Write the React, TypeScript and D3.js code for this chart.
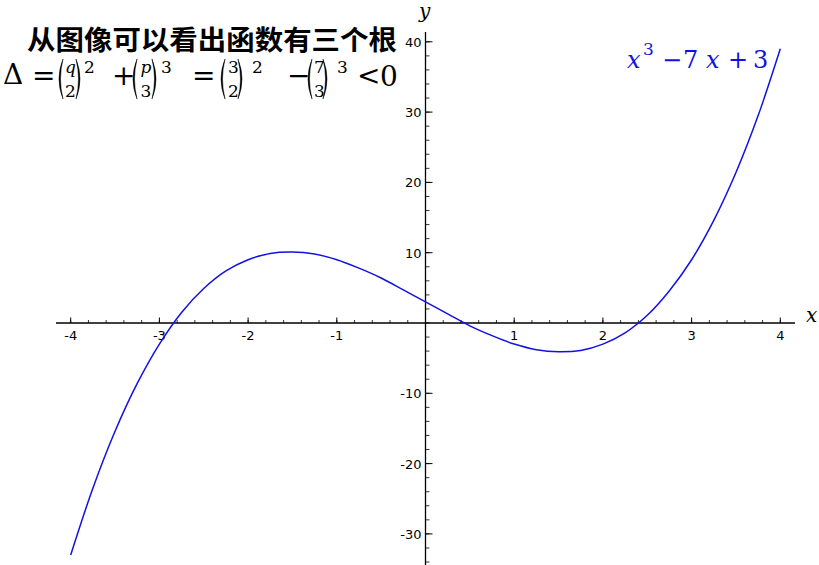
import React from 'react';
import * as d3 from 'd3';

// curve samples
const xValues = [
  -4, -3.75, -3.5, -3.25, -3, -2.75, -2.5, -2.25, -2, -1.75, -1.5, -1.25, -1, -0.75, -0.5, -0.25,
  0, 0.25, 0.5, 0.75, 1, 1.25, 1.5, 1.75, 2, 2.25, 2.5, 2.75, 3, 3.25, 3.5, 3.75, 4,
];
const yValues = [
  -33, -23.5, -15.4, -8.6, -3, 1.5, 4.9, 7.4, 9, 9.9, 10.1, 9.8, 9, 7.8, 6.4, 4.7,
  3, 1.3, -0.4, -1.8, -3, -3.8, -4.1, -3.9, -3, -1.4, 1.1, 4.6, 9, 14.6, 21.4, 29.5, 39,
];
const xTickLabels = [-4, -3, -2, -1, 1, 2, 3, 4];
const yTickLabels = [-30, -20, -10, 10, 20, 30, 40];

const title = '从图像可以看出函数有三个根';

const W = 819;
const H = 565;
const BLUE = '#1111e6';
const SERIF = "'DejaVu Serif', serif";

// formula pieces: text, left x, baseline y, size, italic
type Piece = { t: string; x: number; y: number; s: number; i?: boolean };
const MAIN = 28;
const SUP = 17;
const FR = 17;
const formula: Piece[] = [
  { t: 'Δ', x: 3, y: 84, s: MAIN },
  { t: '=', x: 32, y: 85, s: MAIN },
  { t: '2', x: 84, y: 73, s: SUP },
  { t: '+', x: 112, y: 85, s: MAIN },
  { t: '3', x: 161, y: 73, s: SUP },
  { t: '=', x: 192, y: 85, s: MAIN },
  { t: '2', x: 252, y: 73, s: SUP },
  { t: '−', x: 287, y: 85, s: MAIN },
  { t: '3', x: 337, y: 73, s: SUP },
  { t: '<', x: 357, y: 85, s: MAIN },
  { t: '0', x: 380, y: 86, s: MAIN },
];
// fractions inside the brackets: numerator, denominator
type Frac = { num: string; den: string; x: number; i?: boolean };
const fractions: Frac[] = [
  { num: 'q', den: '2', x: 65, i: true },
  { num: 'p', den: '3', x: 140.5, i: true },
  { num: '3', den: '2', x: 228 },
  { num: '7', den: '3', x: 314 },
];
const parens: { x: number; open: boolean }[] = [
  { x: 57, open: true }, { x: 76, open: false },
  { x: 131, open: true }, { x: 152, open: false },
  { x: 219, open: true }, { x: 238, open: false },
  { x: 306, open: true }, { x: 323, open: false },
];

export default function App() {
  const x = d3.scaleLinear().domain([-4, 4]).range([70.7, 780.3]);
  const y = d3.scaleLinear().domain([-40, 40]).range([604.2, 41.8]);

  const line = d3
    .line<number>()
    .x((_, i) => x(xValues[i]))
    .y((d) => y(d))
    .curve(d3.curveCatmullRom.alpha(0.5));

  const xMinor = x.ticks(40);
  const yMinor = d3.range(-34, 41, 2);
  const x0 = x(0);
  const y0 = y(0);

  return (
    <svg width={W} height={H} style={{ position: 'absolute', left: 0, top: 0, background: '#fff' }}>
      {/* axes */}
      <line x1={56} x2={795} y1={y0} y2={y0} stroke="#000" strokeWidth={1.3} />
      <line x1={x0} x2={x0} y1={32} y2={H} stroke="#000" strokeWidth={1.3} />

      {xMinor.map((v) => (
        <line key={'xm' + v} x1={x(v)} x2={x(v)} y1={y0} y2={y0 - 3} stroke="#000" strokeWidth={0.8} />
      ))}
      {xTickLabels.map((v) => (
        <g key={'xt' + v}>
          <line x1={x(v)} x2={x(v)} y1={y0} y2={y0 - 5.5} stroke="#000" strokeWidth={1} />
          <text x={x(v)} y={y0 + 17} textAnchor="middle" fontSize={13} fontFamily="DejaVu Sans" fill="#000">
            {v}
          </text>
        </g>
      ))}

      {yMinor.map((v) => (
        <line key={'ym' + v} x1={x0} x2={x0 + 4} y1={y(v)} y2={y(v)} stroke="#000" strokeWidth={0.8} />
      ))}
      {yTickLabels.map((v) => (
        <g key={'yt' + v}>
          <line x1={x0} x2={x0 + 7} y1={y(v)} y2={y(v)} stroke="#000" strokeWidth={1} />
          <text x={x0 - 4} y={y(v) + 5} textAnchor="end" fontSize={13} fontFamily="DejaVu Sans" fill="#000">
            {v}
          </text>
        </g>
      ))}

      {/* axis names */}
      <text x={419} y={18} fontSize={20} fontStyle="italic" fontFamily={SERIF}>y</text>
      <text x={806} y={322} fontSize={20} fontStyle="italic" fontFamily={SERIF}>x</text>

      {/* curve */}
      <path d={line(yValues) ?? ''} fill="none" stroke={BLUE} strokeWidth={1.5} />

      {/* curve label */}
      <g fontFamily={SERIF} fill={BLUE}>
        <text x={627} y={68} fontSize={24} fontStyle="italic">x</text>
        <text x={643} y={55} fontSize={17}>3</text>
        <text x={662} y={68} fontSize={24}>−</text>
        <text x={683} y={68} fontSize={24}>7</text>
        <text x={706} y={68} fontSize={24} fontStyle="italic">x</text>
        <text x={728} y={68} fontSize={24}>+</text>
        <text x={753} y={68} fontSize={24}>3</text>
      </g>

      {/* title */}
      <text x={27} y={50} fontSize={27} fontWeight={700} fontFamily="'Noto Sans CJK SC'" textLength={370} lengthAdjust="spacingAndGlyphs">
        {title}
      </text>

      {/* formula */}
      {formula.map((p, i) => (
        <text key={'f' + i} x={p.x} y={p.y} fontSize={p.s} fontFamily={SERIF} fontStyle={p.i ? 'italic' : 'normal'}>
          {p.t}
        </text>
      ))}
      {fractions.map((f, i) => (
        <text key={'fr' + i} fontSize={FR} fontFamily={SERIF}>
          <tspan x={f.x} y={73} fontStyle={f.i ? 'italic' : 'normal'}>{f.num}</tspan>
          <tspan x={f.x} y={97}>{f.den}</tspan>
        </text>
      ))}
      {parens.map((p, i) => {
        const top = 59;
        const bot = 99;
        const mid = (top + bot) / 2;
        const d = p.open
          ? `M${p.x + 6},${top} Q${p.x - 2},${mid} ${p.x + 6},${bot} Q${p.x + 1},${mid} ${p.x + 6},${top} Z`
          : `M${p.x},${top} Q${p.x + 8},${mid} ${p.x},${bot} Q${p.x + 5},${mid} ${p.x},${top} Z`;
        return <path key={'p' + i} d={d} fill="#000" stroke="#000" strokeWidth={0.5} />;
      })}
    </svg>
  );
}
